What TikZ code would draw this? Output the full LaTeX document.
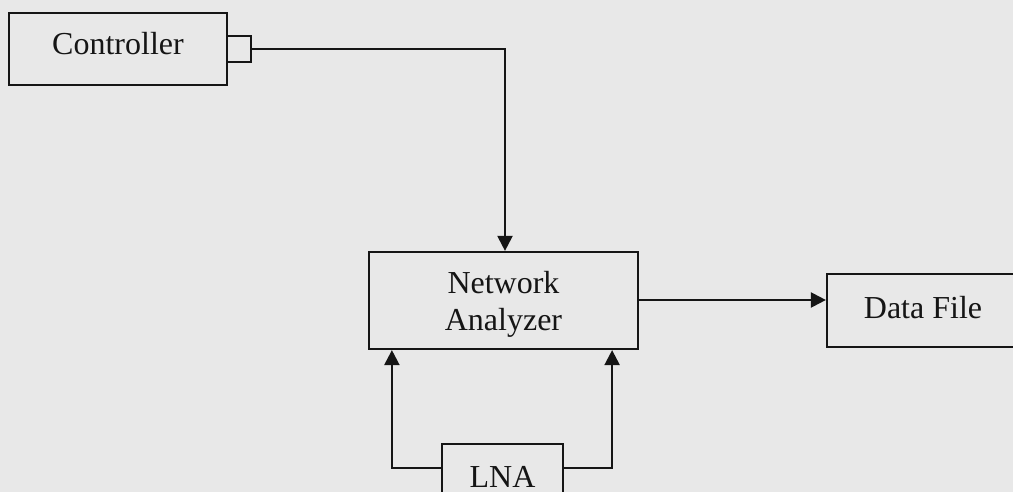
\documentclass[tikz,border=0pt]{standalone}
\usepackage{fontspec}
\setmainfont{Liberation Serif}
\usetikzlibrary{arrows.meta}
\definecolor{bg}{HTML}{E8E8E8}
\definecolor{ink}{HTML}{151515}
\begin{document}
\begin{tikzpicture}[x=0.5pt,y=-0.5pt,
  blk/.style={draw=ink,line width=1.1pt,rectangle,inner sep=0pt},
  txt/.style={text=ink,font=\fontsize{16}{18.5}\selectfont,align=center,inner sep=0pt},
  conn/.style={draw=ink,line width=1.1pt},
  arr/.style={conn,-{Triangle[length=7.5pt,width=7.5pt]}}]
\fill[bg] (0,0) rectangle (1013,492);
\useasboundingbox (0,0) rectangle (1013,492);
\clip (0,0) rectangle (1013,492);
\node[blk,minimum width=109pt,minimum height=36pt,
  label={[txt,yshift=2.5pt]center:Controller}] (ctrl) at (118,49) {};
\node[blk,minimum width=12pt,minimum height=13pt] (port) at (239,49) {};
\node[blk,minimum width=134.5pt,minimum height=48.5pt,
  label={[txt,yshift=-2pt]center:{Network\\Analyzer}}] (na) at (503.5,300.5) {};
\node[blk,minimum width=96pt,minimum height=36.5pt,
  label={[txt,yshift=1.5pt]center:Data File}] (df) at (923,310.5) {};
\node[blk,minimum width=60.5pt,minimum height=33pt,
  label={[txt]center:LNA}] (lna) at (502.5,477) {};
\draw[arr] (port.east) -| ([xshift=0.75pt]na.north);
\draw[arr] ([yshift=0.25pt]na.east) -- ([yshift=0.25pt]na.east -| df.west);
\draw[arr] ([yshift=4.5pt]lna.west) -| ([xshift=12pt]na.south west);
\draw[arr] ([yshift=4.5pt]lna.east) -| ([xshift=-13.5pt]na.south east);
\end{tikzpicture}
\end{document}
